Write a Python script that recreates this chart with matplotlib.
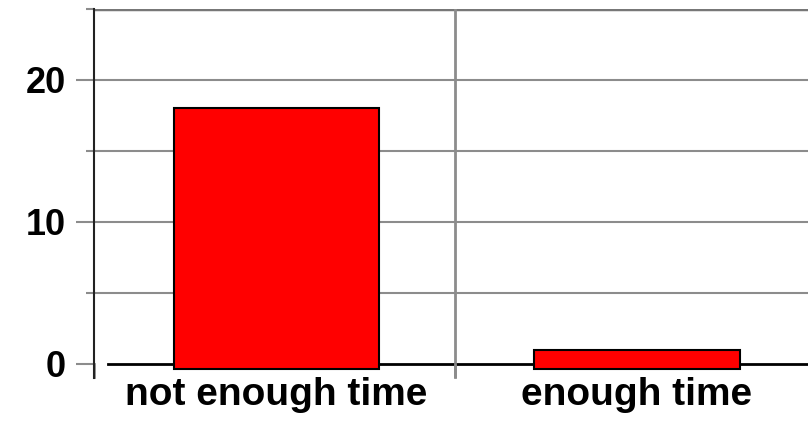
import numpy as np
import matplotlib.pyplot as plt

# данные
categories = ['not enough time', 'enough time']
counts = [18, 1]
yticks_major = [0, 10, 20]

plt.rcParams['font.family'] = ['Liberation Sans', 'DejaVu Sans']

fig = plt.figure(figsize=(8.08, 4.22), dpi=100)
ax = fig.add_axes([94/808, 44/422, 721/808, 369/422])

x = np.arange(len(categories)) + 0.006
base = -0.4
ax.bar(x, np.array(counts) - base, bottom=base, width=0.57,
       color='#ff0000', edgecolor='black', linewidth=1.5, zorder=3)

ax.set_xlim(-0.5, 1.5)
ax.set_ylim(-1, 25)

# сетка
for yv in [5, 10, 15, 20]:
    ax.axhline(yv, color='#8c8c8c', linewidth=1.5, zorder=1)
ax.axhline(25, color='#777777', linewidth=2.5, zorder=1)
ax.axvline(0.5, color='#8c8c8c', linewidth=2, zorder=1)
ax.axhline(0, xmin=0.02, color='black', linewidth=2, zorder=2)

ax.spines['top'].set_visible(False)
ax.spines['right'].set_visible(False)
ax.spines['bottom'].set_visible(False)
ax.spines['left'].set_color('#222222')
ax.spines['left'].set_linewidth(1.5)

ax.set_yticks(yticks_major)
ax.set_yticks([5, 15, 25], minor=True)
ax.set_yticklabels([str(v) for v in yticks_major], fontsize=26, fontweight='bold')
ax.tick_params(axis='y', which='major', length=13, width=1.5, color='#8c8c8c', pad=7)
ax.tick_params(axis='y', which='minor', length=6, width=1.5, color='#8c8c8c')

ax.set_xticks([-0.5, 0.5, 1.5])
ax.set_xticklabels([])
ax.tick_params(axis='x', length=0)
for xv in [-0.5, 0.5, 1.5]:
    ax.plot([xv, xv], [0, -0.95], color='#8c8c8c', linewidth=2, clip_on=False, zorder=2)
for i, c in enumerate(categories):
    ax.text(x[i], -2.2, c, ha='center', va='center', fontsize=28, fontweight='bold')

fig.savefig('out.png', dpi=100)
